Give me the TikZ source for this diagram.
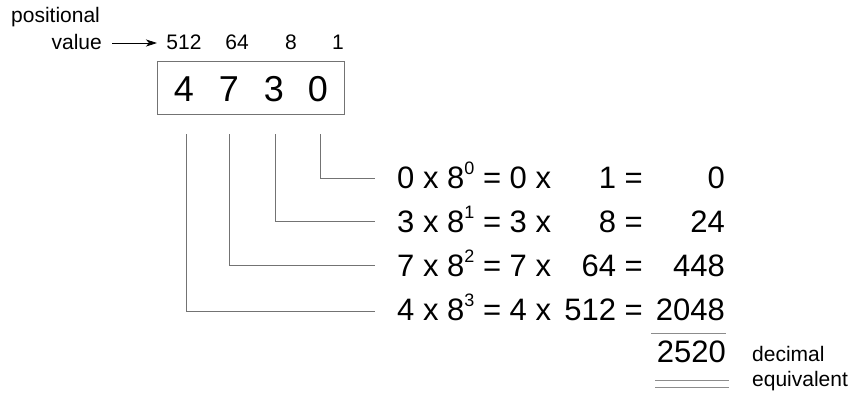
\documentclass[tikz,border=0pt]{standalone}
\usepackage{fontspec}
\setmainfont{Liberation Sans}
\usetikzlibrary{arrows.meta}
\newcommand{\sz}[1]{\fontsize{#1}{#1}\selectfont}
\newcommand{\sxp}[1]{\raisebox{0.42em}{\sz{18}#1}}
\tikzset{
  lbl/.style={inner sep=0pt,font=\sz{21}},
  row/.style={inner sep=0pt,font=\sz{31},anchor=base west},
  rnum/.style={inner sep=0pt,font=\sz{31},anchor=base east},
  bdig/.style={inner sep=0pt,font=\sz{36},anchor=base},
  conn/.style={draw=black!55,line width=0.9pt},
  sumline/.style={draw=black!45,line width=1pt},
}
\begin{document}
\begin{tikzpicture}[x=1pt,y=-1pt]
\useasboundingbox (0,0) rectangle (850,400);
% top labels
\node[lbl,anchor=base west] (pos) at (11,22) {positional};
\node[lbl,anchor=base east] (val) at (102,49) {value};
\node[lbl,anchor=base] (p512) at (184,49) {512};
\node[lbl,anchor=base] (p64) at (237,49) {64};
\node[lbl,anchor=base] (p8) at (291,49) {8};
\node[lbl,anchor=base] (p1) at (338,49) {1};
\coordinate (a1) at (112,43);
\coordinate (a2) at (157,43);
\draw[black,line width=0.8pt,-{Stealth[length=11pt,width=7pt,inset=3pt]}] (a1) -- (a2);
% box
\node[draw=black!55,line width=0.9pt,minimum width=187pt,minimum height=53pt,inner sep=0pt] (box) at (250.5,87.5) {};
\node[bdig] (d4) at (184,101) {4};
\node[bdig] (d7) at (229,101) {7};
\node[bdig] (d3) at (274,101) {3};
\node[bdig] (d0) at (318,101) {0};
% connectors
\coordinate (t4) at (186,134);
\coordinate (t7) at (229,134);
\coordinate (t3) at (275,134);
\coordinate (t0) at (320,134);
\coordinate (e0) at (375,178);
\coordinate (e3) at (375,221);
\coordinate (e7) at (375,265);
\coordinate (e4) at (375,311);
\draw[conn] (t0) |- (e0);
\draw[conn] (t3) |- (e3);
\draw[conn] (t7) |- (e7);
\draw[conn] (t4) |- (e4);
% rows
\node[row] (r0a) at (397,188) {0 x 8\sxp{0} = 0 x};
\node[rnum] (r0b) at (643,188) {1 =};
\node[rnum] (r0c) at (725,188) {0};
\node[row] (r3a) at (397,232) {3 x 8\sxp{1} = 3 x};
\node[rnum] (r3b) at (643,232) {8 =};
\node[rnum] (r3c) at (725,232) {24};
\node[row] (r7a) at (397,276) {7 x 8\sxp{2} = 7 x};
\node[rnum] (r7b) at (643,276) {64 =};
\node[rnum] (r7c) at (725,276) {448};
\node[row] (r4a) at (397,320) {4 x 8\sxp{3} = 4 x};
\node[rnum] (r4b) at (643,320) {512 =};
\node[rnum] (r4c) at (725,320) {2048};
% sum
\coordinate (s1a) at (651,333);
\coordinate (s1b) at (726,333);
\draw[sumline] (s1a) -- (s1b);
\node[rnum] (tot) at (726,362) {2520};
\coordinate (s2a) at (655,380);
\coordinate (s2b) at (729,380);
\coordinate (s3a) at (655,387);
\coordinate (s3b) at (729,387);
\draw[sumline] (s2a) -- (s2b);
\draw[sumline] (s3a) -- (s3b);
\node[lbl,anchor=base west] (dec) at (752,361) {decimal};
\node[lbl,anchor=base west] (equ) at (752,386) {equivalent};
\end{tikzpicture}
\end{document}
